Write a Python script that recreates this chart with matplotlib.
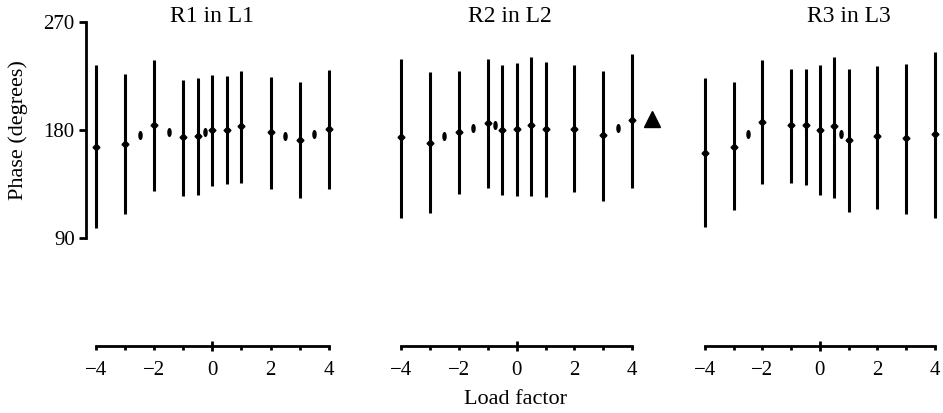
import matplotlib.pyplot as plt
from matplotlib.path import Path
from matplotlib.transforms import Affine2D
from matplotlib.ticker import FixedLocator, FixedFormatter

plt.rcParams['font.family'] = ['Liberation Serif', 'DejaVu Serif']

# Panel titles
titles = ['R1 in L1', 'R2 in L2', 'R3 in L3']

# Error bars: load factor, mean phase, lower and upper ends (degrees)
x1 = [-4, -3, -2, -1, -0.5, 0, 0.5, 1, 2, 3, 4]
mid1 = [166, 168, 184, 174, 175, 180, 180, 183, 178, 172, 181]
low1 = [98, 110, 129, 125, 126, 133, 135, 136, 131, 123, 131]
high1 = [234, 227, 238, 222, 223, 226, 225, 229, 224, 220, 230]

x2 = [-4, -3, -2, -1, -0.5, 0, 0.5, 1, 2, 3, 4]
mid2 = [174, 169, 178, 186, 180, 181, 184, 181, 181, 176, 188]
low2 = [107, 111, 127, 132, 126, 125, 125, 124, 128, 121, 132]
high2 = [239, 228, 229, 239, 234, 236, 241, 237, 234, 229, 243]

x3 = [-4, -3, -2, -1, -0.5, 0, 0.5, 1, 2, 3, 4]
mid3 = [161, 166, 187, 184, 184, 180, 183, 172, 175, 173, 177]
low3 = [99, 113, 135, 136, 134, 126, 123, 112, 114, 110, 107]
high3 = [223, 220, 238, 231, 231, 234, 241, 231, 233, 235, 245]

# Small single points (no spread)
dot_x1 = [-2.5, -1.5, -0.25, 2.5, 3.5]
dot_y1 = [176, 178, 178, 175, 177]
dot_x2 = [-2.5, -1.5, -0.75, 3.5]
dot_y2 = [175, 182, 184, 182]
dot_x3 = [-2.5, 0.75]
dot_y3 = [177, 177]

# Triangle marker in the middle panel
tri_x = [4.68]
tri_y = [189]

panels = [
    (x1, mid1, low1, high1, dot_x1, dot_y1),
    (x2, mid2, low2, high2, dot_x2, dot_y2),
    (x3, mid3, low3, high3, dot_x3, dot_y3),
]
title_x = [0, -0.25, 1.0]

W, H = 943, 413
fig = plt.figure(figsize=(W / 100, H / 100), dpi=100)

# axes boxes in pixels: left, width (bottom at y=0 -> 346 px, top 16 px)
boxes = [(85.8, 251.7), (390.9, 267.3), (694.9, 247.2)]
xmax = [4.3, 4.9, 4.25]
bottom_px, top_px = 346, 16

ellipse = Path.unit_circle().transformed(Affine2D().scale(0.4, 1.0))

axes = []
for i, (left, width) in enumerate(boxes):
    ax = fig.add_axes([left / W, 1 - bottom_px / H, width / W, (bottom_px - top_px) / H])
    ax.set_xlim(-4.35, xmax[i])
    ax.set_ylim(0, 275)
    ax.patch.set_visible(False)
    axes.append(ax)

    xs, mids, lows, highs, dx, dy = panels[i]
    ax.vlines(xs, lows, highs, colors='black', linewidth=2.2)
    ax.plot(xs, mids, linestyle='none', marker='D', markersize=3.5, color='black')
    ax.plot(dx, dy, linestyle='none', marker=ellipse, markersize=5.5, color='black')

    ax.text(title_x[i], 275, titles[i], ha='center', va='center', fontsize=17)

    for s in ['top', 'right']:
        ax.spines[s].set_visible(False)
    ax.spines['bottom'].set_bounds(-4, 4)
    ax.spines['bottom'].set_linewidth(2)

    ax.xaxis.set_major_locator(FixedLocator([0]))
    ax.xaxis.set_major_formatter(FixedFormatter(['0']))
    ax.xaxis.set_minor_locator(FixedLocator([-4, -3, -2, -1, 1, 2, 3, 4]))
    ax.xaxis.set_minor_formatter(FixedFormatter(['\u22124', '', '\u22122', '', '', '2', '', '4']))
    ax.tick_params(axis='x', which='major', direction='inout', length=7, width=2,
                   labelsize=15, pad=7.5)
    ax.tick_params(axis='x', which='minor', direction='out', length=3, width=2,
                   labelsize=15, pad=7.5)

    if i == 0:
        ax.spines['left'].set_bounds(90, 270)
        ax.spines['left'].set_linewidth(2)
        ax.set_yticks([90, 180, 270])
        ax.tick_params(axis='y', direction='out', length=5, width=2, labelsize=15, pad=3)
    else:
        ax.spines['left'].set_visible(False)
        ax.set_yticks([])

axes[1].plot(tri_x, tri_y, linestyle='none', marker='^', markersize=12, color='black',
             clip_on=False)

fig.text(18 / W, 1 - 130 / H, 'Phase (degrees)', rotation=90, ha='center', va='center',
         fontsize=16)
fig.text(515 / W, 1 - 400 / H, 'Load factor', ha='center', va='center', fontsize=16)

fig.savefig('out.png', dpi=100)
